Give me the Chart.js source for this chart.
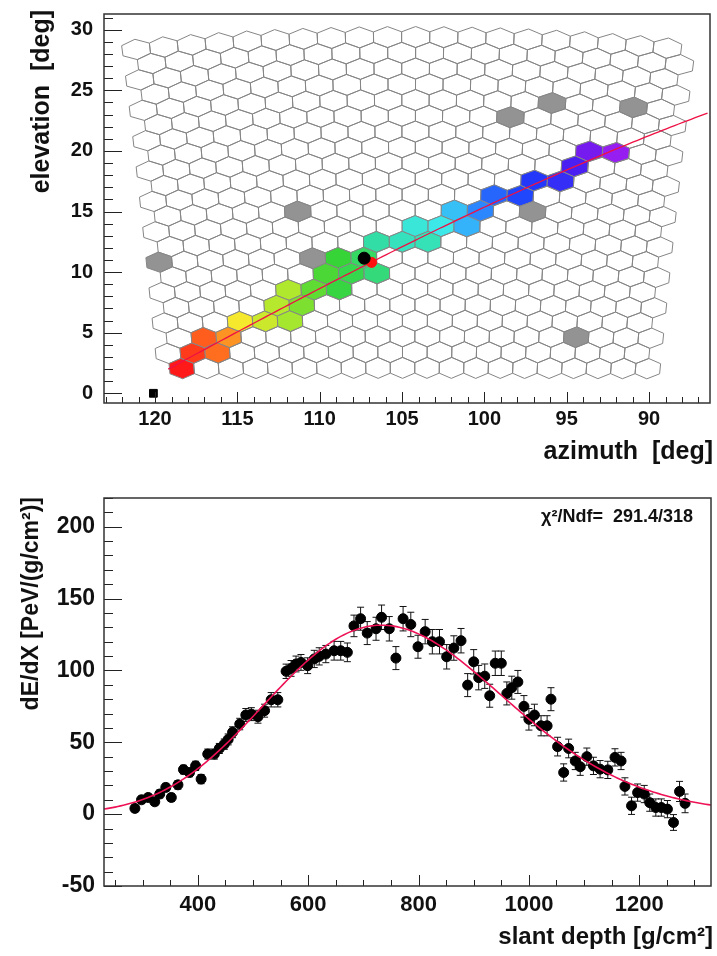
<!DOCTYPE html>
<html>
<head>
<meta charset="utf-8">
<title>FD event: camera view and longitudinal profile</title>
<script src="https://cdn.jsdelivr.net/npm/chart.js@4.4.1/dist/chart.umd.min.js"></script>
<style>
  html, body { margin: 0; padding: 0; background: #fff; }
  #page { position: relative; width: 717px; height: 956px; }
  canvas { position: absolute; left: 0; }
  #camera { top: 0; }
  #profile { top: 470px; }
</style>
</head>
<body>
<div id="page">
  <canvas id="camera" width="717" height="470"></canvas>
  <canvas id="profile" width="717" height="486"></canvas>
</div>
<script>
const FONT = "'Liberation Sans', Arial, Helvetica, sans-serif";

// ---- camera geometry: 22 rows x 20 columns of hexagonal pixels ----
const CAM_ROWS = 22;
const CAM_COLS = 20;
const CAM_AZ = 104.6;   // azimuth of camera axis [deg]
const CAM_EL = 15.75;   // elevation of camera axis [deg]
const PIX_DU = 1.53;    // column spacing [deg]
const PIX_DV = 1.30;    // row spacing [deg]

// pixels used in the time fit (row 0 = top, column 0 = left) and their trigger time [100 ns]
const trackRow  = [21, 20, 19, 20, 19, 18, 18, 17, 16, 18, 17, 16, 15, 14, 16, 15, 14, 15, 13, 13, 13, 12, 12, 11, 12, 11, 10, 10,  9,  9,  8,  7,   7];
const trackCol  = [ 0,  1,  1,  2,  2,  3,  4,  4,  5,  5,  5,  6,  6,  7,  7,  7,  8,  8,  8,  9, 10, 10, 11, 11, 12, 12, 13, 14, 14, 15, 16, 16,  17];
const trackTime = [ 0,  4,  8, 10, 13, 20, 26, 29, 30, 31, 35, 38, 40, 42, 43, 44, 46, 48, 52, 55, 54, 58, 60, 66, 68, 73, 76, 79, 81, 84, 88, 95, 100];

// triggered pixels rejected from the track
const noiseRow = [4, 4, 5, 11, 11, 14, 14, 19];
const noiseCol = [15, 18, 13, 5, 14, 0, 6, 16];

// shower-detector plane, given by two directions on it [az, el]
const SDP_START = [119.2, 2.0];
const SDP_END = [86.3, 23.2];

// hybrid station and reconstructed directions
const stationAz = [120.1], stationEl = [0.0];
const coreAz = [107.3], coreEl = [11.15];
const axisAz = [106.85], axisEl = [10.8];

// ---- longitudinal profile ----
const depth = [286, 298, 310, 322, 331, 342, 352, 364, 374, 385, 396, 406, 418, 430, 439, 448, 455, 463, 476, 487,
  497, 509, 521, 533, 545, 560, 569, 578, 587, 599, 611, 620, 632, 647, 659, 671, 683, 695, 707, 723,
  733, 747, 759, 772, 786, 799, 812, 825, 838, 851, 864, 877, 889, 900, 909, 920, 929, 939, 950, 960,
  969, 980, 991, 1000, 1010, 1022, 1033, 1040, 1052, 1063, 1072, 1084, 1093, 1105, 1117, 1129, 1143, 1156, 1167, 1174,
  1186, 1197, 1209, 1219, 1230, 1240, 1251, 1262, 1273, 1283];
const dEdX = [4, 10, 11.6, 8.6, 14, 18.6, 11.6, 20.4, 31, 29, 33.6, 24.4, 41.8, 41.8, 45.7, 48.7, 52, 57, 62.7, 69,
  69.6, 67.8, 72, 79.6, 79.6, 99.4, 101.4, 104.5, 105.6, 103.3, 108, 109.8, 111.4, 113.7, 113.7, 112.6, 131, 136, 126, 129,
  137, 129, 108.6, 136, 132, 116.5, 127, 120, 120, 109.5, 115.6, 120.7, 89.8, 106, 95, 96, 82.4, 105, 105, 84,
  88, 92, 75, 66, 69, 61.5, 61.5, 80, 47, 29, 45.7, 37, 33, 40, 33.6, 31.3, 30.8, 39.5, 37, 19.3,
  5.8, 15, 14, 8, 4.6, 4.6, 3.5, -5.8, 15.8, 7.5];
const dEdXErr = [2.5, 2.5, 2.5, 2.5, 2.8, 2.8, 2.8, 3, 3, 3, 3.2, 3.2, 3.5, 3.5, 3.5, 3.6, 3.8, 3.8, 4, 4.5,
  4.5, 4.5, 4.5, 5, 5, 5, 5.5, 5.5, 5.5, 5.5, 6, 6, 6, 6.5, 6.5, 6.5, 7.5, 8, 8, 8,
  8.5, 8.5, 8, 8.5, 8.5, 8, 8.5, 8.5, 8.5, 8.5, 8.5, 8.5, 8, 8.5, 8.5, 8.5, 8, 8.5, 8.5, 8,
  8, 8, 7.5, 7.5, 7.5, 7, 7, 8, 6.5, 6, 6.5, 6, 6, 6, 6, 6, 6, 6, 6, 6,
  6, 6, 6, 6, 6, 6, 6, 5.5, 7, 6.5];

// Gaisser-Hillas fit (Xmax, dE/dX max, L, R)
const GH_XMAX = 733, GH_EMAX = 131.5, GH_L = 215, GH_R = 0.15;
const FIT_CHI2 = '291.4', FIT_NDF = '318';

// time colour scale (early = red, late = violet)
const PALETTE = [
  [0.00, [255, 25, 25]], [0.10, [255, 110, 30]], [0.20, [245, 232, 45]], [0.30, [175, 232, 45]],
  [0.42, [55, 212, 55]], [0.52, [50, 222, 165]], [0.60, [60, 232, 232]], [0.70, [50, 165, 255]],
  [0.80, [30, 60, 250]], [0.90, [85, 25, 240]], [1.00, [150, 30, 240]]
];

function timeColour(t) {
  const f = (t - Math.min(...trackTime)) / (Math.max(...trackTime) - Math.min(...trackTime));
  for (let i = 1; i < PALETTE.length; i++) {
    if (f <= PALETTE[i][0]) {
      const [f0, c0] = PALETTE[i - 1], [f1, c1] = PALETTE[i];
      const w = (f - f0) / (f1 - f0);
      return 'rgb(' + c0.map((c, k) => Math.round(c + w * (c1[k] - c))).join(',') + ')';
    }
  }
  return 'rgb(' + PALETTE[PALETTE.length - 1][1].join(',') + ')';
}

const D2R = Math.PI / 180;

// camera coordinates (u to the left, v up, deg) -> [azimuth, elevation]
function camToSky(u, v) {
  const tu = Math.tan(u * D2R), tv = Math.tan(v * D2R);
  const ce = Math.cos(CAM_EL * D2R), se = Math.sin(CAM_EL * D2R);
  const x = ce - se * tv;
  const z = se + ce * tv;
  const n = Math.sqrt(1 + tu * tu + tv * tv);
  return [CAM_AZ + Math.atan2(tu, x) / D2R, Math.asin(z / n) / D2R];
}

function pixelCorners(r, c) {
  const u = (9.5 - c) * PIX_DU + (r % 2 === 0 ? 1 : -1) * PIX_DU / 4;
  const v = (10.5 - r) * PIX_DV;
  const w = PIX_DU / 2, h = PIX_DV / 3;
  return [[u, v + 2 * h], [u - w, v + h], [u - w, v - h], [u, v - 2 * h], [u + w, v - h], [u + w, v + h]]
    .map(([a, b]) => camToSky(a, b));
}

function pixelFill(r, c) {
  for (let i = 0; i < trackRow.length; i++) {
    if (trackRow[i] === r && trackCol[i] === c) return timeColour(trackTime[i]);
  }
  for (let i = 0; i < noiseRow.length; i++) {
    if (noiseRow[i] === r && noiseCol[i] === c) return '#939393';
  }
  return null;
}

// points along the great circle through the two SDP directions
function sdpLine() {
  const vec = ([az, el]) => [Math.cos(el * D2R) * Math.cos(az * D2R), Math.cos(el * D2R) * Math.sin(az * D2R), Math.sin(el * D2R)];
  const a = vec(SDP_START), b = vec(SDP_END);
  const n = [a[1] * b[2] - a[2] * b[1], a[2] * b[0] - a[0] * b[2], a[0] * b[1] - a[1] * b[0]];
  const pts = [];
  for (let az = SDP_START[0]; az >= SDP_END[0] - 1e-9; az -= 0.25) {
    const s = n[0] * Math.cos(az * D2R) + n[1] * Math.sin(az * D2R);
    pts.push({x: az, y: Math.atan(-s / n[2]) / D2R});
  }
  return pts;
}

function gaisserHillas(X) {
  const base = 1 + GH_R * (X - GH_XMAX) / GH_L;
  if (base <= 0) return 0;
  return GH_EMAX * Math.pow(base, 1 / (GH_R * GH_R)) * Math.exp(-(X - GH_XMAX) / (GH_R * GH_L));
}

// hexagonal camera pixels, drawn under the datasets
const hexCells = {
  id: 'hexCells',
  beforeDatasetsDraw(chart) {
    const {ctx, scales: {x, y}} = chart;
    ctx.save();
    ctx.lineWidth = 1;
    ctx.strokeStyle = '#858585';
    for (let r = 0; r < CAM_ROWS; r++) {
      for (let c = 0; c < CAM_COLS; c++) {
        ctx.beginPath();
        pixelCorners(r, c).forEach(([az, el], i) => {
          const px = x.getPixelForValue(az), py = y.getPixelForValue(el);
          if (i) ctx.lineTo(px, py); else ctx.moveTo(px, py);
        });
        ctx.closePath();
        const fill = pixelFill(r, c);
        if (fill) {
          ctx.fillStyle = fill;
          ctx.fill();
        }
        ctx.stroke();
      }
    }
    ctx.restore();
  }
};

// vertical error bars with small caps
const errorBars = {
  id: 'errorBars',
  beforeDatasetsDraw(chart) {
    const {ctx, scales: {x, y}} = chart;
    ctx.save();
    ctx.strokeStyle = '#111';
    ctx.lineWidth = 1;
    chart.data.datasets.forEach(ds => {
      if (!ds.yErr) return;
      ds.data.forEach((p, i) => {
        const px = x.getPixelForValue(p.x);
        const lo = y.getPixelForValue(p.y - ds.yErr[i]);
        const hi = y.getPixelForValue(p.y + ds.yErr[i]);
        ctx.beginPath();
        ctx.moveTo(px, lo); ctx.lineTo(px, hi);
        ctx.moveTo(px - 3.5, lo); ctx.lineTo(px + 3.5, lo);
        ctx.moveTo(px - 3.5, hi); ctx.lineTo(px + 3.5, hi);
        ctx.stroke();
      });
    });
    ctx.restore();
  }
};

function tickValues(scale, minor, major) {
  const out = [];
  for (let k = Math.ceil(scale.min / minor - 1e-9); k * minor <= scale.max + 1e-9; k++) {
    const v = k * minor;
    out.push([v, Math.abs(v / major - Math.round(v / major)) < 1e-6]);
  }
  return out;
}

// frame with ticks pointing inwards
const rootFrame = {
  id: 'rootFrame',
  afterDraw(chart, args, opts) {
    const {ctx, chartArea: a, scales: {x, y}} = chart;
    ctx.save();
    ctx.strokeStyle = '#222';
    ctx.lineWidth = 1;
    ctx.beginPath();
    for (const [v, major] of tickValues(x, opts.xMinor, opts.xMajor)) {
      const px = Math.round(x.getPixelForValue(v)) + 0.5;
      ctx.moveTo(px, a.bottom);
      ctx.lineTo(px, a.bottom - (major ? opts.xLen[0] : opts.xLen[1]));
    }
    for (const [v, major] of tickValues(y, opts.yMinor, opts.yMajor)) {
      const py = Math.round(y.getPixelForValue(v)) + 0.5;
      ctx.moveTo(a.left, py);
      ctx.lineTo(a.left + (major ? opts.yLen[0] : opts.yLen[1]), py);
    }
    ctx.stroke();
    ctx.lineWidth = 1.5;
    ctx.strokeStyle = '#333';
    ctx.strokeRect(a.left, a.top, a.right - a.left, a.bottom - a.top);
    ctx.restore();
  }
};

// axis titles at the far ends of the axes, plus an optional note
const axisTitles = {
  id: 'axisTitles',
  afterDraw(chart, args, opts) {
    const {ctx} = chart;
    ctx.save();
    ctx.fillStyle = '#111';
    ctx.textAlign = 'right';
    ctx.textBaseline = 'alphabetic';
    ctx.font = `bold ${opts.xSize}px ${FONT}`;
    ctx.fillText(opts.x, opts.xRight, opts.xBaseline);
    if (opts.note) {
      ctx.font = `bold ${opts.note.size}px ${FONT}`;
      ctx.textBaseline = 'middle';
      ctx.fillText(opts.note.text, opts.note.right, opts.note.y);
    }
    ctx.translate(opts.yCentre, opts.yTop);
    ctx.rotate(-Math.PI / 2);
    ctx.textBaseline = 'middle';
    ctx.font = `bold ${opts.ySize}px ${FONT}`;
    ctx.fillText(opts.y, 0, 0);
    ctx.restore();
  }
};

// fixed axis box sizes, no extra room reserved for edge labels
function fixBox(width, height) {
  return s => {
    if (width != null) s.width = width;
    if (height != null) s.height = height;
    s.paddingTop = s.paddingBottom = s.paddingLeft = s.paddingRight = 0;
  };
}

function axis(min, max, step, size, pad, extra) {
  return Object.assign({
    type: 'linear', min, max,
    ticks: {stepSize: step, includeBounds: false, padding: pad, color: '#111',
      font: {family: FONT, size, weight: 'bold'}, callback: v => String(v)},
    grid: {display: false, drawTicks: false},
    border: {display: false}
  }, extra);
}

// ---- camera view ----
new Chart(document.getElementById('camera'), {
  type: 'scatter',
  data: {
    datasets: [
      {label: 'core', data: coreAz.map((a, i) => ({x: a, y: coreEl[i]})), order: 0,
        pointRadius: 6, pointBackgroundColor: '#000', pointBorderColor: '#000'},
      {label: 'axis', data: axisAz.map((a, i) => ({x: a, y: axisEl[i]})), order: 1,
        pointRadius: 5, pointBackgroundColor: '#ff1010', pointBorderColor: '#ff1010'},
      {label: 'SDP', data: sdpLine(), order: 2, showLine: true, pointRadius: 0,
        borderColor: '#ee1144', borderWidth: 1.3},
      {label: 'station', data: stationAz.map((a, i) => ({x: a, y: stationEl[i]})), order: 3,
        pointStyle: 'rect', pointRadius: 5.5, pointBackgroundColor: '#000', pointBorderColor: '#000'}
    ]
  },
  options: {
    responsive: false,
    animation: false,
    devicePixelRatio: 1,
    layout: {padding: {top: 14, right: 4, left: 0, bottom: 0}},
    scales: {
      x: axis(86.3, 123.1, 5, 20, 4, {reverse: true, afterFit: fixBox(null, 470 - 403)}),
      y: axis(-0.8, 31.3, 5, 20, 11, {afterFit: fixBox(104, null)})
    },
    plugins: {
      legend: {display: false},
      tooltip: {enabled: false},
      rootFrame: {xMinor: 1, xMajor: 5, xLen: [11, 6], yMinor: 1, yMajor: 5, yLen: [18, 9]},
      axisTitles: {x: 'azimuth  [deg]', xSize: 25, xRight: 713, xBaseline: 459,
        y: 'elevation  [deg]', ySize: 25, yCentre: 42, yTop: 10}
    }
  },
  plugins: [hexCells, rootFrame, axisTitles]
});

// ---- longitudinal profile ----
const fitCurve = [];
for (let X = 230; X <= 1330; X += 5) fitCurve.push({x: X, y: gaisserHillas(X)});

new Chart(document.getElementById('profile'), {
  type: 'scatter',
  data: {
    datasets: [
      {label: 'Gaisser-Hillas', data: fitCurve, order: 0, showLine: true, pointRadius: 0,
        borderColor: '#ee1155', borderWidth: 1.6},
      {label: 'dE/dX', data: depth.map((d, i) => ({x: d, y: dEdX[i]})), yErr: dEdXErr, order: 1,
        pointRadius: 5, pointBackgroundColor: '#000', pointBorderColor: '#000'}
    ]
  },
  options: {
    responsive: false,
    animation: false,
    devicePixelRatio: 1,
    layout: {padding: {top: 28, right: 3, left: 0, bottom: 0}},
    scales: {
      x: axis(230, 1330, 200, 22, 6, {afterFit: fixBox(null, 486 - 416)}),
      y: axis(-50, 220, 50, 23, 9, {afterFit: fixBox(104, null)})
    },
    plugins: {
      legend: {display: false},
      tooltip: {enabled: false},
      rootFrame: {xMinor: 50, xMajor: 200, xLen: [11, 6], yMinor: 10, yMajor: 50, yLen: [18, 9]},
      axisTitles: {x: 'slant depth [g/cm²]', xSize: 24, xRight: 713, xBaseline: 474,
        y: 'dE/dX [PeV/(g/cm²)]', ySize: 23, yCentre: 32, yTop: 27,
        note: {text: 'χ²/Ndf=  ' + FIT_CHI2 + '/' + FIT_NDF, size: 18, right: 693, y: 47}}
    }
  },
  plugins: [errorBars, rootFrame, axisTitles]
});
</script>
</body>
</html>
